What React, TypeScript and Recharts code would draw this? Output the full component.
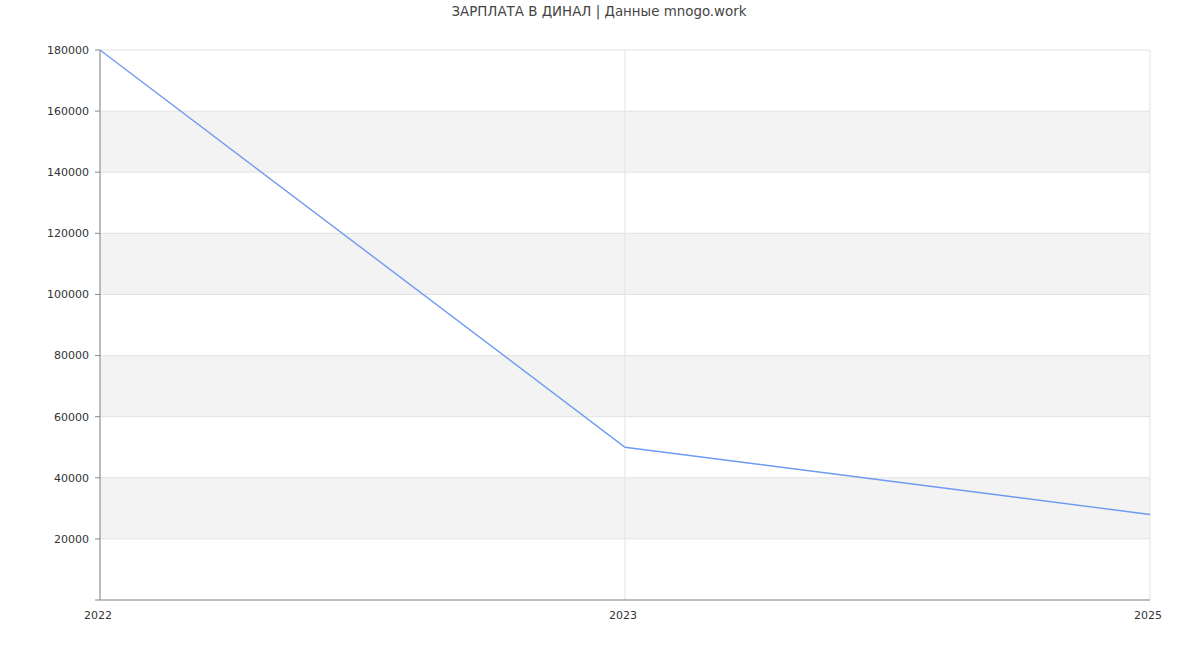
import { CartesianGrid, Line, LineChart, XAxis, YAxis } from "recharts";

const years = ["2022", "2023", "2025"];
const salaries = [180000, 50000, 28000];
const yTicks = [0, 20000, 40000, 60000, 80000, 100000, 120000, 140000, 160000, 180000];

const data = years.map((year, i) => ({ year, salary: salaries[i] }));

const font = "'DejaVu Sans', sans-serif";

export default function App() {
  return (
    <div style={{ position: "absolute", left: 0, top: 0, width: 1200, height: 650, fontFamily: font }}>
      <div
        style={{
          position: "absolute",
          top: 4,
          left: 0,
          width: 1198,
          textAlign: "center",
          fontSize: 13.4,
          color: "#444",
        }}
      >
        ЗАРПЛАТА В ДИНАЛ | Данные mnogo.work
      </div>
      <LineChart width={1200} height={650} data={data} margin={{ top: 50, right: 50, bottom: 20, left: 0 }}>
        <CartesianGrid
          stroke="#e3e3e3"
          horizontalFill={["#ffffff", "#f3f3f3"]}
          fillOpacity={1}
        />
        <XAxis
          dataKey="year"
          height={30}
          tickLine={false}
          tickMargin={5}
          stroke="#888"
          tick={{ fill: "#333", fontSize: 11, fontFamily: font, dx: -2 }}
        />
        <YAxis
          width={100}
          domain={[0, 180000]}
          ticks={yTicks}
          tickSize={5}
          tickMargin={6}
          stroke="#888"
          tickFormatter={(v: number) => (v === 0 ? "" : String(v))}
          tick={{ fill: "#333", fontSize: 11, fontFamily: font }}
        />
        <Line
          type="linear"
          dataKey="salary"
          stroke="#6d9bf1"
          strokeWidth={1.4}
          dot={false}
          activeDot={false}
          isAnimationActive={false}
        />
      </LineChart>
    </div>
  );
}
